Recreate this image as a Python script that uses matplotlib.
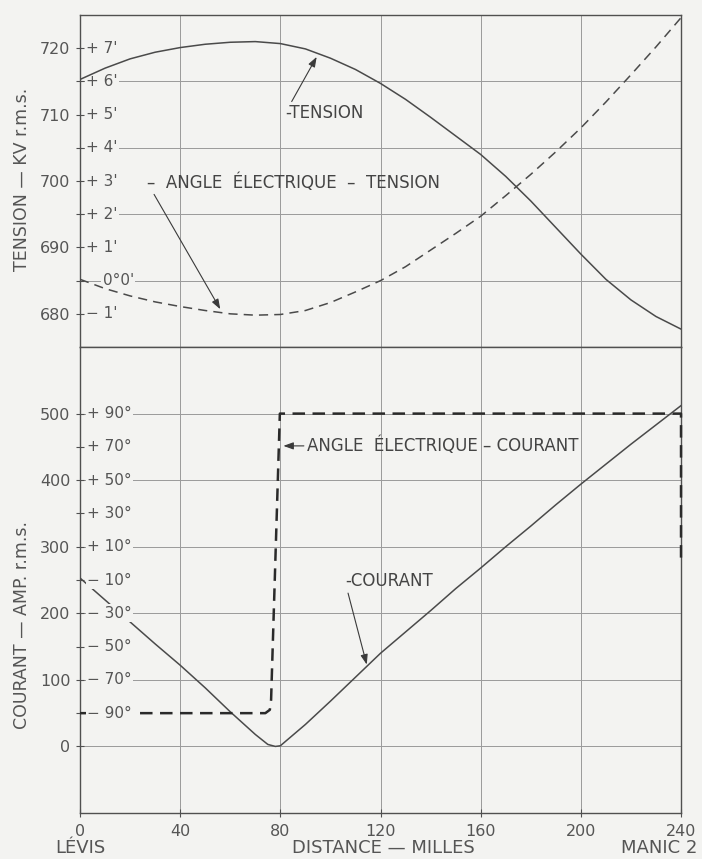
import matplotlib
matplotlib.use("Agg")
import matplotlib.pyplot as plt
import matplotlib.transforms as mtransforms

# ---------------- data ----------------
miles = [0, 10, 20, 30, 40, 50, 60, 70, 80, 90, 100, 110, 120, 130, 140, 150,
         160, 170, 180, 190, 200, 210, 220, 230, 240]
tension_kv = [715.3, 717.0, 718.4, 719.4, 720.1, 720.6, 720.9, 721.0, 720.7,
              719.9, 718.5, 716.8, 714.7, 712.3, 709.6, 706.8, 704.0, 700.7,
              697.0, 693.0, 689.0, 685.2, 682.1, 679.6, 677.7]
# electrical angle of voltage, minutes of arc
tension_angle_min = [0.04, -0.24, -0.46, -0.64, -0.78, -0.90, -1.0, -1.04, -1.02,
                     -0.90, -0.66, -0.34, 0.0, 0.42, 0.92, 1.42, 1.94, 2.56,
                     3.2, 3.88, 4.6, 5.38, 6.2, 7.04, 7.92]

current_miles = [0, 10, 20, 30, 40, 50, 60, 70, 75, 78, 80, 90, 100, 110, 120,
                 130, 140, 150, 160, 170, 180, 190, 200, 210, 220, 230, 240]
current_amp = [253, 220, 187, 154, 122, 88, 52, 18, 3, 0, 1, 33, 68, 104, 140,
               172, 204, 237, 268, 300, 331, 363, 394, 424, 454, 483, 512]

# electrical angle of current, degrees
current_angle_miles = [0, 74, 75.8, 76.3, 79.8, 240, 240]
current_angle_deg = [-90, -90, -88, -82, 90, 90, 0]

x_ticks = [0, 40, 80, 120, 160, 200, 240]
kv_ticks = [680, 690, 700, 710, 720]
amp_ticks = [0, 100, 200, 300, 400, 500]
tension_angle_ticks = [-1, 0, 1, 2, 3, 4, 5, 6, 7]
current_angle_ticks = [-90, -70, -50, -30, -10, 10, 30, 50, 70, 90]

# scale relations between the secondary (angle) scales and the primary axes
KV_ZERO, KV_PER_MIN = 685.0, 5.0
AMP_ZERO, AMP_PER_DEG = 275.0, 2.5


def min_to_kv(m):
    return KV_ZERO + KV_PER_MIN * m


def deg_to_amp(d):
    return AMP_ZERO + AMP_PER_DEG * d


# ---------------- style ----------------
BG = "#f3f3f1"
TXT = "#555555"
LINE = "#4a4a4a"
GRID = "#9a9a9a"
plt.rcParams["font.family"] = ["DejaVu Sans"]

fig = plt.figure(figsize=(7.02, 8.59), dpi=100, facecolor=BG)
ax1 = fig.add_axes([0.1140, 0.5960, 0.8561, 0.3865], facecolor=BG)
ax2 = fig.add_axes([0.1140, 0.05355, 0.8561, 0.54245], facecolor=BG)

for ax in (ax1, ax2):
    ax.set_xlim(0, 240)
    ax.set_xticks(x_ticks)
    for s in ax.spines.values():
        s.set_color("#505050")
        s.set_linewidth(1.0)
    ax.tick_params(axis="both", direction="inout", length=6, width=0.8,
                   color="#505050", labelcolor=TXT, labelsize=11.5, pad=4)
    ax.tick_params(axis="y", which="minor", direction="inout", length=6,
                   width=0.8, color="#505050")
    for xv in x_ticks[1:-1]:
        ax.axvline(xv, color=GRID, lw=0.7, zorder=1)

# ---------- top panel ----------
ax1.set_ylim(675, 725)
ax1.set_yticks(kv_ticks)
ax1.set_yticks([min_to_kv(m) for m in tension_angle_ticks], minor=True)
ax1.tick_params(axis="x", labelbottom=False, length=0)
for m in tension_angle_ticks:
    if m % 2 == 0:
        ax1.axhline(min_to_kv(m), color=GRID, lw=0.7, zorder=1)

ax1.plot(miles, tension_kv, color=LINE, lw=1.1, zorder=3)
ax1.plot(miles, [min_to_kv(m) for m in tension_angle_min], color=LINE,
         lw=1.1, dashes=(6, 4), zorder=3)

tr1 = mtransforms.blended_transform_factory(ax1.transAxes, ax1.transData)
for m in tension_angle_ticks:
    if m == 0:
        lab, xpos = "0°0'", 0.038
    elif m > 0:
        lab, xpos = "+ %d'" % m, 0.010
    else:
        lab, xpos = "− %d'" % abs(m), 0.010
    ax1.text(xpos, min_to_kv(m), lab, transform=tr1, ha="left", va="center",
             fontsize=11, color=TXT, zorder=2,
             bbox=dict(facecolor=BG, edgecolor="none", pad=1.0))

# ---------- bottom panel ----------
ax2.set_ylim(-100, 600)
ax2.set_yticks(amp_ticks)
ax2.set_yticks([deg_to_amp(d) for d in current_angle_ticks], minor=True)
for a in amp_ticks:
    ax2.axhline(a, color=GRID, lw=0.7, zorder=1)
ax2.tick_params(axis="x", labelsize=11.5, pad=5)

ax2.plot(current_miles, current_amp, color=LINE, lw=1.1, zorder=3)
ax2.plot(current_angle_miles, [deg_to_amp(d) for d in current_angle_deg],
         color="#2a2a2a", lw=1.8, dashes=(5, 3), zorder=4, clip_on=False)

tr2 = mtransforms.blended_transform_factory(ax2.transAxes, ax2.transData)
for d in current_angle_ticks:
    lab = ("+ %d°" % d) if d > 0 else ("− %d°" % abs(d))
    ax2.text(0.012, deg_to_amp(d), lab, transform=tr2, ha="left", va="center",
             fontsize=11, color=TXT, zorder=5,
             bbox=dict(facecolor=BG, edgecolor="none", pad=1.0))

# ---------- annotations ----------
arrow = dict(arrowstyle="-|>,head_length=0.5,head_width=0.18", color="#3a3a3a",
             lw=0.8, shrinkA=0, shrinkB=0, relpos=(0, 0.5))
ax1.annotate("-TENSION", xy=(94.5, 718.7), xytext=(81.9, 710.2),
             ha="left", va="center", fontsize=12, color="#444444",
             arrowprops=arrow, zorder=6)
ax1.annotate("–  ANGLE  ÉLECTRIQUE  –  TENSION", xy=(56, 680.7),
             xytext=(26.8, 699.8), ha="left", va="center", fontsize=12,
             color="#444444", arrowprops=arrow, zorder=6)
ax2.annotate("ANGLE  ÉLECTRIQUE – COURANT", xy=(81.2, 451.5),
             xytext=(90.5, 451.5), ha="left", va="center", fontsize=12,
             color="#444444", arrowprops=arrow, zorder=6)
ax2.annotate("-COURANT", xy=(114.5, 123), xytext=(105.8, 248),
             ha="left", va="center", fontsize=12, color="#444444",
             arrowprops=arrow, zorder=6)

# ---------- axis titles ----------
fig.text(0.031, 0.7916, "TENSION — KV r.m.s.", rotation=90, ha="center",
         va="center", fontsize=12.5, color=TXT)
fig.text(0.031, 0.2724, "COURANT — AMP. r.m.s.", rotation=90, ha="center",
         va="center", fontsize=12.5, color=TXT)
fig.text(0.1147, 0.0128, "LÉVIS", ha="center", va="center", fontsize=13,
         color=TXT)
fig.text(0.5456, 0.0128, "DISTANCE — MILLES", ha="center", va="center",
         fontsize=13, color=TXT)
fig.text(0.9395, 0.0128, "MANIC 2", ha="center", va="center", fontsize=13,
         color=TXT)

fig.savefig("out.png", dpi=100, facecolor=BG)
